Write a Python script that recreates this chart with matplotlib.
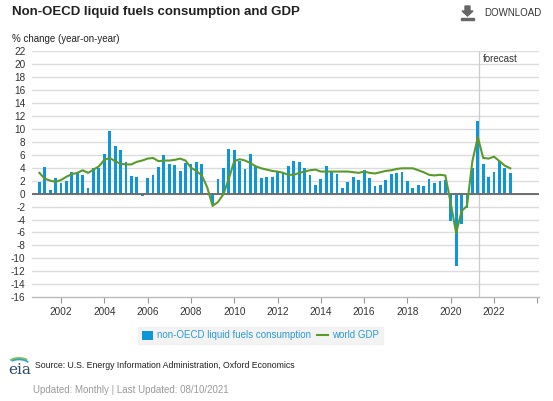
import numpy as np
import matplotlib
matplotlib.use('Agg')
import matplotlib.pyplot as plt
from matplotlib.patches import Polygon, Arc

plt.rcParams['font.family'] = ['Liberation Sans', 'DejaVu Sans']

# quarterly, 2001 Q1 .. 2022 Q4
years = list(range(2001, 2023))
quarters = [y + q * 0.25 for y in years for q in range(4)]

# non-OECD liquid fuels consumption, % change year-on-year
fuels = [1.8, 4.1, 0.5, 2.4,
         1.7, 1.9, 3.3, 3.2,
         2.8, 0.9, 3.9, 3.9,
         6.1, 9.6, 7.4, 6.8,
         4.9, 2.7, 2.6, -0.4,
         2.4, 2.9, 4.1, 5.9,
         4.5, 4.4, 3.5, 4.7,
         4.5, 4.8, 4.6, -0.2,
         -1.6, 2.3, 3.9, 6.9,
         6.8, 5.0, 3.8, 6.1,
         4.3, 2.4, 2.6, 2.5,
         3.4, 3.2, 4.2, 5.0,
         4.8, 3.9, 2.9, 1.3,
         2.2, 4.2, 3.4, 3.0,
         0.9, 1.8, 2.5, 2.1,
         3.7, 2.4, 1.2, 1.3,
         2.1, 3.0, 3.2, 3.3,
         1.9, 0.9, 1.4, 1.2,
         2.3, 1.7, 2.0, 2.1,
         -4.3, -11.2, -4.7, -2.2,
         3.9, 11.2, 4.5, 2.6,
         3.3, 5.1, 3.9, 3.2]

# world GDP, % change year-on-year
gdp = [3.2, 2.3, 2.0, 1.8,
       2.1, 2.6, 3.0, 3.2,
       3.6, 3.2, 3.7, 4.2,
       5.2, 5.5, 5.0, 4.6,
       4.5, 4.5, 4.9, 5.1,
       5.4, 5.5, 5.0, 5.1,
       5.1, 5.2, 5.4, 5.1,
       4.0, 3.5, 2.8, 1.0,
       -1.9, -1.3, -0.1, 2.3,
       5.0, 5.3, 5.1, 4.7,
       4.2, 3.9, 3.7, 3.5,
       3.4, 3.2, 2.9, 2.9,
       3.2, 3.4, 3.6, 3.7,
       3.4, 3.4, 3.4, 3.4,
       3.4, 3.4, 3.3, 3.2,
       3.4, 3.2, 3.1, 3.3,
       3.5, 3.6, 3.8, 3.9,
       3.9, 3.9, 3.6, 3.3,
       2.9, 2.8, 2.9, 2.8,
       -1.5, -6.1, -2.7, -1.9,
       5.0, 8.7, 5.5, 5.4,
       5.7, 5.0, 4.3, 3.9]

forecast_start = 2021.32
tick_years = list(range(2002, 2025, 2))
tick_labels = [str(y) if y <= 2022 else '' for y in tick_years]

BLUE = '#0f96d8'
GREEN = '#5a9a2a'

W, H = 553, 401
fig = plt.figure(figsize=(W / 100, H / 100), dpi=100)
ax = fig.add_axes([32.3 / W, 1 - 297.3 / H, (539.3 - 32.3) / W, (297.3 - 51) / H])

ax.set_xlim(2000.674, 2024.09)
ax.set_ylim(-16, 22)

for v in range(-14, 23, 2):
    ax.axhline(v, color='#dcdcdc', lw=1.0, zorder=0)
ax.axvline(forecast_start, color='#cccccc', lw=0.9, zorder=0)

bars = ax.bar(quarters, fuels, width=0.13, color=BLUE, zorder=2)
ax.axhline(0, color='#6e6e6e', lw=1.4, zorder=3)
line, = ax.plot(quarters, gdp, color=GREEN, lw=1.5, zorder=4)

ax.text(forecast_start + 0.18, 20.8, 'forecast', fontsize=7, color='#333333',
        va='center', ha='left')

for s in ['top', 'right', 'left']:
    ax.spines[s].set_visible(False)
ax.spines['bottom'].set_color('#bbbbbb')
ax.spines['bottom'].set_linewidth(1.0)

ax.set_yticks(range(-16, 23, 2))
ax.set_yticklabels([str(v) for v in range(-16, 23, 2)])
ax.tick_params(axis='y', length=0, pad=5, labelsize=7.2, labelcolor='#333333')
ax.set_xticks(tick_years)
ax.set_xticklabels(tick_labels)
ax.tick_params(axis='x', length=4, width=0.8, color='#999999', pad=3,
               labelsize=7.2, labelcolor='#333333')

leg = fig.legend([bars, line], ['non-OECD liquid fuels consumption', 'world GDP'],
                 loc='center', bbox_to_anchor=(260.5 / W, 1 - 335.5 / H),
                 ncol=2, fontsize=7, frameon=True, fancybox=False,
                 handlelength=1.1, handleheight=1.1, columnspacing=0.7,
                 handletextpad=0.4, borderpad=0.4)
leg.get_frame().set_facecolor('#f0f0f0')
leg.get_frame().set_edgecolor('#f0f0f0')
for t in leg.get_texts():
    t.set_color('#2e9ad6')

# titles and notes
fig.text(12 / W, 1 - 12 / H, 'Non-OECD liquid fuels consumption and GDP',
         fontsize=9.5, fontweight='bold', color='#222222', va='center')
fig.text(484 / W, 1 - 13 / H, 'DOWNLOAD', fontsize=7, color='#333333', va='center')
fig.text(12 / W, 1 - 39 / H, '% change (year-on-year)', fontsize=7,
         color='#222222', va='center')
fig.text(35 / W, 1 - 366 / H,
         'Source: U.S. Energy Information Administration, Oxford Economics',
         fontsize=6.3, color='#222222', va='center')
fig.text(33 / W, 1 - 390 / H, 'Updated: Monthly | Last Updated: 08/10/2021',
         fontsize=7, color='#9a9a9a', va='center')

# download icon
def fx(px):
    return px / W

def fy(py):
    return 1 - py / H

arrow = [(465, 6), (470, 6), (470, 11), (473, 11), (467.5, 16), (462, 11), (465, 11)]
fig.patches.append(Polygon([(fx(x), fy(y)) for x, y in arrow], closed=True,
                           transform=fig.transFigure, color='#666666'))
fig.patches.append(Polygon([(fx(461), fy(17.5)), (fx(474), fy(17.5)),
                            (fx(474), fy(19.5)), (fx(461), fy(19.5))], closed=True,
                           transform=fig.transFigure, color='#666666'))

# eia logo
fig.text(8 / W, 1 - 370 / H, 'eia', fontsize=11, family='DejaVu Serif',
         color='#2a4a6a', va='center')
fig.patches.append(Arc((fx(19), fy(364)), 22 / W, 12 / H, theta1=35, theta2=150,
                       transform=fig.transFigure, color='#8bc34a', lw=1.4))
fig.patches.append(Arc((fx(19), fy(365.5)), 22 / W, 12 / H, theta1=25, theta2=140,
                       transform=fig.transFigure, color='#29a3db', lw=1.2))

fig.savefig('out.png', dpi=100)
